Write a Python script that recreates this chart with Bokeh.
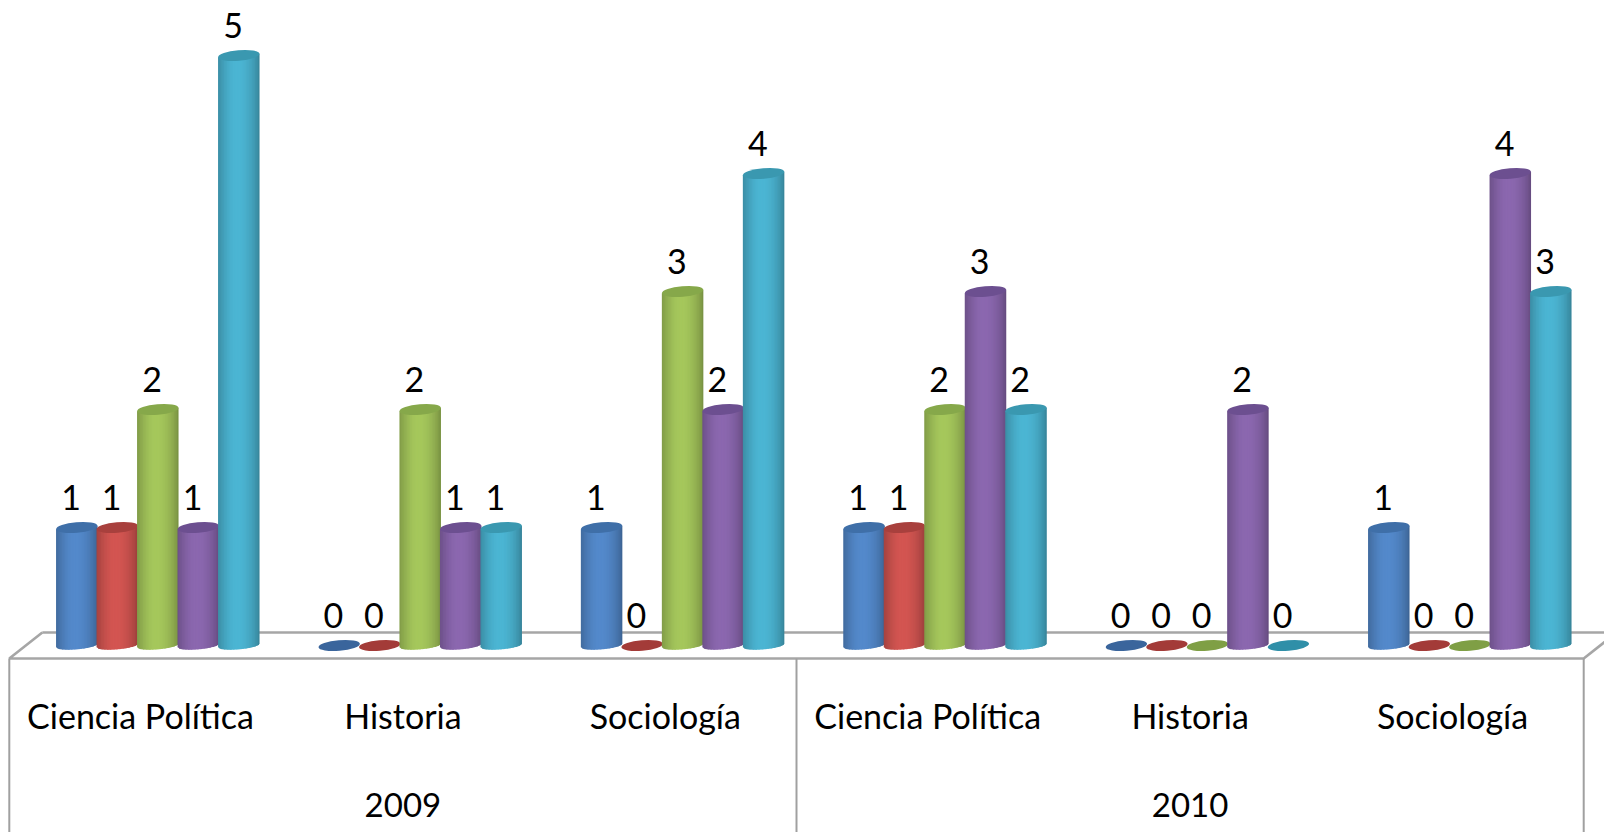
import math
from bokeh.plotting import figure
from bokeh.models import Range1d
from bokeh.core.properties import value
from bokeh.embed import file_html
from bokeh.resources import INLINE

subjects = ["Ciencia Política", "Historia", "Sociología", "Ciencia Política", "Historia", "Sociología"]
years = ["2009", "2010"]
serie_azul = [1, 0, 1, 1, 0, 1]
serie_roja = [1, 0, 0, 1, 0, 0]
serie_verde = [2, 2, 3, 2, 0, 0]
serie_morada = [1, 1, 2, 3, 2, 4]
serie_turquesa = [5, 1, 4, 2, 0, 3]
series = [serie_azul, serie_roja, serie_verde, serie_morada, serie_turquesa]
body_colors = [(84, 138, 204), (212, 86, 82), (166, 200, 92), (140, 104, 176), (76, 182, 212)]
top_colors = ["#3F6FA8", "#A8403D", "#86A84A", "#6C4F90", "#3A98B0"]
disc_colors = ["#3A659C", "#A33B38", "#7F9F45", "#664A88", "#2F8FA8"]

GROUP_PX = 262.4
UNIT_PX = 118.0
X0_PX = 140.0
Y0_PX = 645.0
W, H = 1604, 832
GREY = "#A6A6A6"
FONT = value("Lato")

def dx(px):
    return px / GROUP_PX

def dy(px):
    return px / UNIT_PX

p = figure(width=W, height=H, output_backend="svg", toolbar_location=None,
           x_range=Range1d(dx(-X0_PX), dx(W - X0_PX)),
           y_range=Range1d(dy(Y0_PX - H), dy(Y0_PX)),
           min_border=0, outline_line_color=None, background_fill_color="white")
p.axis.visible = False
p.grid.visible = False

# Floor and separators
front = dy(-13)
back = dy(13)
left = -0.5
right = 5.5
slant = dx(33)
floor_xs = [[left + slant, left, right, right + slant], [left + slant, right + slant]]
floor_ys = [[back, front, front, back], [back, back]]
p.multi_line(floor_xs, floor_ys, line_color=GREY, line_width=2.6)
bottom = dy(Y0_PX - H)
p.multi_line([[left, left], [2.5, 2.5], [right, right]],
             [[front, bottom]] * 3, line_color="#A0A0A0", line_width=2.0)

# Cylinders
STEP = dx(40.5)
BAR = dx(41.5)
SHIFT = dx(17.3)
TILT = math.tan(math.radians(5))
EW = dx(41.5)
EH = dy(10.5)
N = 28


def shade(t):
    if t < 0.45:
        return 0.78 + 0.22 * math.sin(t / 0.45 * math.pi / 2)
    return 0.70 + 0.30 * math.cos((t - 0.45) / 0.55 * math.pi / 2) ** 0.7


for g in range(len(subjects)):
    for s, vals in enumerate(series):
        v = vals[g]
        cx = g + SHIFT + (s - 2) * STEP
        if v == 0:
            p.ellipse([cx], [0], width=EW, height=EH, angle=math.radians(5),
                      fill_color=disc_colors[s], line_color=None)
        else:
            xs, ys, cols = [], [], []
            for i in range(N):
                t0 = i / N
                t1 = min(1.0, (i + 1.6) / N)
                x0 = cx - BAR / 2 + t0 * BAR
                x1 = cx - BAR / 2 + t1 * BAR
                def low(t):
                    u = 2 * t - 1
                    return -(1 - u * u) ** 0.5 * dy(3.8) + dy(u * 20 * TILT)
                def high(t):
                    return v + dy((2 * t - 1) * 20 * TILT)
                xs.append([x0, x1, x1, x0])
                ys.append([low(t0), low(t1), high(t1), high(t0)])
                f = shade((i + 0.5) / N)
                cols.append("#%02x%02x%02x" % tuple(int(c * f) for c in body_colors[s]))
            p.patches(xs, ys, fill_color=cols, line_color=None)
            p.ellipse([cx], [v], width=EW, height=EH, angle=math.radians(5),
                      fill_color=top_colors[s], line_color=None)

# Value labels
for g in range(len(subjects)):
    for s, vals in enumerate(series):
        v = vals[g]
        p.text([g + SHIFT + (s - 2) * STEP], [v], text=[str(v)], text_font=FONT,
               text_font_size="34px", text_color="#000000", text_align="center",
               text_baseline="middle", x_offset=-5.8, y_offset=-30)

# Category labels
p.text(list(range(len(subjects))), [dy(-70)] * len(subjects), text=subjects, text_font=FONT,
       text_font_size="34px", text_color="#000000", text_align="center", text_baseline="middle")
p.text([1, 4], [dy(-159)] * 2, text=years, text_font=FONT, text_font_size="33px",
       text_color="#000000", text_align="center", text_baseline="middle")

open("out.html", "w").write(file_html(p, INLINE))
